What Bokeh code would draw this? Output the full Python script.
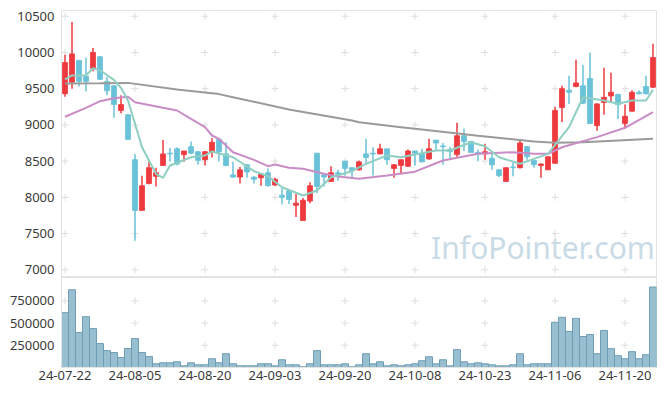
from bokeh.plotting import figure
from bokeh.models import Range1d, FixedTicker, PrintfTickFormatter, Label
from bokeh.layouts import column
from bokeh.embed import file_html
from bokeh.resources import INLINE

# ---- data ----
tick_idx = [0, 10, 20, 30, 40, 50, 60, 70, 80]
tick_labels = ["24-07-22", "24-08-05", "24-08-20", "24-09-03", "24-09-20",
               "24-10-08", "24-10-23", "24-11-06", "24-11-20"]

opens = [9430, 9590, 9890, 9670, 9780, 9940, 9600, 9540, 9200, 9140,
         8520, 7820, 8190, 8290, 8440, 8610, 8670, 8590, 8700, 8630,
         8520, 8630, 8800, 8600, 8310, 8280, 8450, 8280, 8270, 8340,
         8170, 8030, 8090, 7890, 7680, 7950, 8610, 8310, 8220, 8340,
         8500, 8410, 8380, 8600, 8610, 8600, 8670, 8400, 8440, 8430,
         8640, 8600, 8530, 8790, 8710, 8660, 8590, 8850, 8770, 8620,
         8600, 8540, 8380, 8220, 8420, 8410, 8700, 8510, 8440, 8380,
         8470, 9240, 9480, 9530, 9540, 9640, 8990, 9310, 9400, 9420,
         9020, 9190, 9450, 9530, 9520]
highs = [9970, 10420, 9900, 9930, 10060, 9950, 9660, 9550, 9410, 9150,
         8600, 8300, 8500, 8410, 8790, 8680, 8690, 8640, 8770, 8640,
         8640, 8820, 8810, 8760, 8490, 8420, 8460, 8290, 8330, 8400,
         8270, 8130, 8100, 8050, 7990, 8210, 8610, 8320, 8430, 8380,
         8500, 8410, 8510, 8810, 8690, 8740, 8670, 8460, 8520, 8660,
         8640, 8670, 8810, 8790, 8750, 8700, 9030, 8950, 8780, 8660,
         8740, 8610, 8390, 8410, 8485, 8800, 8710, 8510, 8470, 8570,
         9250, 9540, 9680, 9900, 9830, 10000, 9300, 9790, 9720, 9430,
         9280, 9480, 9480, 9680, 10120]
lows = [9390, 9500, 9530, 9460, 9740, 9620, 9410, 9100, 9160, 8800,
        7400, 7820, 8180, 8150, 8440, 8495, 8440, 8490, 8600, 8450,
        8440, 8550, 8495, 8430, 8270, 8190, 8270, 8190, 8160, 8150,
        8160, 7900, 7910, 7730, 7680, 7920, 8060, 8150, 8220, 8230,
        8300, 8280, 8370, 8460, 8300, 8600, 8450, 8270, 8320, 8420,
        8440, 8480, 8520, 8650, 8450, 8520, 8560, 8640, 8620, 8500,
        8520, 8380, 8280, 8220, 8290, 8400, 8520, 8410, 8270, 8380,
        8470, 9040, 9290, 9520, 9290, 9010, 8920, 9140, 9310, 9080,
        8970, 9180, 9420, 9420, 9510]
closes = [9860, 9980, 9600, 9600, 10000, 9630, 9470, 9280, 9280, 8800,
          7820, 8160, 8410, 8340, 8600, 8600, 8460, 8640, 8610, 8510,
          8630, 8760, 8630, 8440, 8280, 8380, 8350, 8250, 8320, 8160,
          8250, 8000, 7970, 7920, 7960, 8160, 8150, 8280, 8340, 8320,
          8400, 8370, 8490, 8550, 8600, 8670, 8520, 8450, 8520, 8640,
          8610, 8490, 8670, 8750, 8700, 8630, 8850, 8770, 8620, 8600,
          8630, 8450, 8300, 8410, 8410, 8750, 8560, 8450, 8460, 8560,
          9200, 9500, 9450, 9580, 9300, 9020, 9290, 9380, 9450, 9280,
          9120, 9450, 9430, 9430, 9930]
volumes = [616600, 874400, 392400, 571700, 437200, 269000, 190600, 168200, 112100, 213000,
           325100, 168200, 123300, 41700, 53000, 53000, 64400, 19000, 53000, 30300,
           30300, 98500, 53000, 155300, 41700, 19000, 19000, 19000, 41700, 41700,
           19000, 87100, 30300, 30300, 7600, 41700, 189400, 30300, 30300, 30300,
           41700, 8000, 30300, 155300, 41700, 64400, 18900, 30300, 18900, 30300,
           41700, 75800, 121200, 41700, 87100, 18900, 200800, 64400, 41700, 53000,
           41700, 30300, 18900, 18900, 30300, 155300, 30300, 41700, 41700, 41700,
           507600, 564400, 405300, 553000, 348500, 371200, 155300, 416700, 212100, 132600,
           98500, 178000, 98500, 143900, 905000]

ma5_idx = [0, 1, 3, 4, 5, 7, 8, 9, 10, 11, 13, 14, 15, 18, 20, 21, 24, 27, 29, 31,
           34, 36, 38, 41, 43, 46, 48, 53, 55, 58, 60, 62, 65, 67, 69, 72, 74, 77, 79, 81, 83, 84]
ma5_val = [9627, 9682, 9682, 9782, 9754, 9622, 9512, 9337, 9015, 8692, 8325, 8270, 8440, 8554, 8578,
           8633, 8554, 8361, 8292, 8140, 8026, 8095, 8278, 8361, 8463, 8578, 8554, 8647, 8647, 8761,
           8706, 8554, 8463, 8532, 8601, 8968, 9382, 9337, 9291, 9337, 9337, 9484]
ma20_idx = [0, 3, 5, 7, 9, 10, 14, 16, 18, 20, 21, 22, 24, 27, 29, 30, 32, 34, 37, 39, 42,
            46, 50, 54, 59, 64, 67, 69, 71, 76, 80, 84]
ma20_val = [9112, 9236, 9327, 9368, 9388, 9313, 9236, 9199, 9084, 8970, 8854, 8808, 8623, 8518,
            8430, 8453, 8408, 8394, 8325, 8288, 8256, 8302, 8355, 8509, 8601, 8623, 8601, 8601,
            8692, 8831, 8960, 9175]
ma60_idx = [0, 5, 9, 16, 22, 24, 32, 33, 41, 42, 48, 50, 59, 67, 70, 74, 84]
ma60_val = [9570, 9575, 9580, 9490, 9425, 9382, 9213, 9195, 9061, 9037, 8969, 8946, 8850, 8771,
            8755, 8761, 8808]

price_ticks = [7000, 7500, 8000, 8500, 9000, 9500, 10000, 10500]
vol_ticks = [250000, 500000, 750000]

# ---- styles ----
UP = "#ee3a3f"
DOWN = "#6ac2d8"
GRID = "#dedede"
BORDER = "#e3e3e3"
FONT = "Noto Sans"
LABEL_COLOR = "#3a3a3a"

n = len(closes)
idx = list(range(n))
cols = [UP if c >= o else DOWN for o, c in zip(opens, closes)]
tops = [max(o, c) for o, c in zip(opens, closes)]
bots = [min(o, c) for o, c in zip(opens, closes)]
x_range = Range1d(-0.5, n - 0.5)


def style_axis(ax, standoff):
    ax.axis_line_color = BORDER
    ax.major_tick_line_color = None
    ax.minor_tick_line_color = None
    ax.major_tick_out = 0
    ax.major_tick_in = 0
    ax.minor_tick_out = 0
    ax.minor_tick_in = 0
    ax.major_label_text_font = FONT
    ax.major_label_text_font_size = "13px"
    ax.major_label_text_color = LABEL_COLOR
    ax.major_label_standoff = standoff


def style(p):
    p.outline_line_color = BORDER
    p.xgrid.visible = False
    p.ygrid.visible = False
    for ax in p.yaxis:
        style_axis(ax, 7)


p1 = figure(width=658, height=277, x_range=x_range, y_range=Range1d(6894, 10579),
            output_backend="svg", toolbar_location=None, x_axis_location=None,
            min_border_left=61, min_border_right=2, min_border_top=10, min_border_bottom=0)
style(p1)
p1.yaxis.ticker = FixedTicker(ticks=price_ticks)

gx = [t for t in tick_idx for _ in price_ticks]
gy = [v for _ in tick_idx for v in price_ticks]
p1.scatter(gx, gy, marker="cross", size=7, line_color=GRID, line_width=1)

p1.add_layout(Label(x=52.3, y=7020, text="InfoPointer.com", text_font=FONT,
                    text_font_size="30px", text_color="#c9dbe6"))

p1.segment(x0=idx, y0=lows, x1=idx, y1=highs, line_color=cols, line_width=1.5)
p1.vbar(x=idx, top=tops, bottom=bots, width=0.72, fill_color=cols, line_color=cols, line_width=0.8)

p1.line(ma60_idx, ma60_val, line_color="#9a9a9a", line_width=2)
p1.line(ma20_idx, ma20_val, line_color="#c98cc6", line_width=2)
p1.line(ma5_idx, ma5_val, line_color="#8fcfc2", line_width=2)

p2 = figure(width=658, height=112, x_range=x_range, y_range=Range1d(0, 1012000),
            output_backend="svg", toolbar_location=None,
            min_border_left=61, min_border_right=2, min_border_top=0, min_border_bottom=22)
style(p2)
p2.yaxis.ticker = FixedTicker(ticks=vol_ticks)
p2.yaxis.formatter = PrintfTickFormatter(format="%d")
xa = p2.xaxis[0]
style_axis(xa, 3)
xa.ticker = FixedTicker(ticks=tick_idx)
xa.major_label_overrides = {t: l for t, l in zip(tick_idx, tick_labels)}

vx = [t for t in tick_idx for _ in vol_ticks]
vy = [v for _ in tick_idx for v in vol_ticks]
p2.scatter(vx, vy, marker="cross", size=7, line_color=GRID, line_width=1)
p2.vbar(x=idx, top=volumes, bottom=0, width=1.0, fill_color="#98bfd0",
        line_color="#6f9db5", line_width=1)

layout = column(p1, p2)
open("out.html", "w").write(file_html(layout, INLINE))
